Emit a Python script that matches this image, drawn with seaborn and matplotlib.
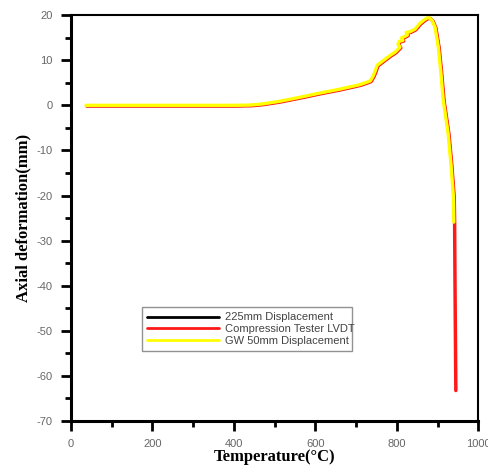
import matplotlib
matplotlib.use("Agg")
import matplotlib.pyplot as plt
import seaborn as sns
import pandas as pd
from matplotlib.ticker import MultipleLocator

sns.set_theme(style="white")
plt.rcParams["axes.unicode_minus"] = False

temp = [37, 100, 200, 300, 400, 440, 470, 513, 563, 610, 661, 710, 735, 742, 747, 752, 765, 784,
        796, 808, 803, 806, 815, 812, 820, 826, 823, 832, 845, 857, 868, 875, 880, 887, 894,
        902, 908, 914, 920, 926, 933, 939]
deform = [0.0, 0.0, 0.0, 0.0, 0.0, 0.05, 0.3, 0.9, 1.8, 2.7, 3.6, 4.6, 5.4, 6.5, 7.6, 8.9, 9.8, 11.1,
          11.8, 12.9, 13.6, 14.2, 14.4, 15.0, 15.3, 15.6, 16.2, 16.3, 16.9, 18.2, 19.0, 19.4, 19.4, 18.8, 17.3,
          12.9, 7.5, 1.2, -2.5, -6.2, -13.0, -20.3]
yellow_end_t = [939, 940]
yellow_end_d = [-20.3, -25.9]
red_tail_t = [940, 941, 943]
red_tail_d = [-25.9, -40.0, -63.1]

series = ["225mm Displacement", "Compression Tester LVDT", "GW 50mm Displacement"]
colors = ["#000000", "#ff1a1a", "#ffff00"]

rows = []
t_main = temp + yellow_end_t[1:]
d_main = deform + yellow_end_d[1:]
for s in series:
    tt = list(t_main)
    dd = list(d_main)
    if s == series[1]:
        tt = tt + red_tail_t[1:]
        dd = dd + red_tail_d[1:]
    for i, (a, b) in enumerate(zip(tt, dd)):
        rows.append({"T": a, "D": b, "series": s, "order": i})
df = pd.DataFrame(rows)

fig = plt.figure(figsize=(4.89, 4.73), dpi=100)
ax = fig.add_axes([0.145, 0.110, 0.833, 0.858])

offsets = {series[0]: (1.5, -0.1), series[1]: (2.0, -0.15), series[2]: (0, 0)}
widths = {series[0]: 2.0, series[1]: 2.5, series[2]: 2.4}
for s, c in zip(series, colors):
    sub = df[df.series == s].copy()
    dx, dy = offsets[s]
    sub["T"] = sub["T"] + dx
    sub["D"] = sub["D"] + dy
    sns.lineplot(data=sub, x="T", y="D", sort=False, color=c, lw=widths[s], ax=ax,
                 label=s, estimator=None)

ax.set_xlim(0, 1000)
ax.set_ylim(-70, 20)
ax.xaxis.set_major_locator(MultipleLocator(200))
ax.xaxis.set_minor_locator(MultipleLocator(100))
ax.yaxis.set_major_locator(MultipleLocator(10))
ax.yaxis.set_minor_locator(MultipleLocator(5))
ax.tick_params(which="major", direction="out", length=7, width=2, color="black",
               labelsize=8, labelcolor="#666666", bottom=True, left=True, pad=6)
ax.tick_params(which="minor", direction="out", length=4, width=2, color="black",
               bottom=True, left=True)
for lab in ax.get_xticklabels() + ax.get_yticklabels():
    lab.set_family("Liberation Sans")
for sp in ax.spines.values():
    sp.set_color("black")
    sp.set_linewidth(1.5)
ax.spines["left"].set_linewidth(2.2)
ax.spines["bottom"].set_linewidth(2.2)

ax.set_xlabel("Temperature(°C)", fontsize=12, fontweight="bold", family="Liberation Serif",
              color="black", labelpad=0)
ax.set_ylabel("Axial deformation(mm)", fontsize=12, fontweight="bold", family="Liberation Serif",
              color="black", labelpad=4)

leg = ax.legend(loc="lower left", bbox_to_anchor=(0.16, 0.158, 0.543, 0.148), mode="expand",
                frameon=True, fancybox=False, prop={"family": "Liberation Sans", "size": 8},
                handlelength=6.5, borderpad=0.5, labelspacing=0.15, handletextpad=0.5)
leg.get_frame().set_edgecolor("#777777")
leg.get_frame().set_linewidth(1.0)
for h in leg.get_lines():
    h.set_linewidth(2)
for t in leg.get_texts():
    t.set_color("#444444")

fig.savefig("out.png", dpi=100)
